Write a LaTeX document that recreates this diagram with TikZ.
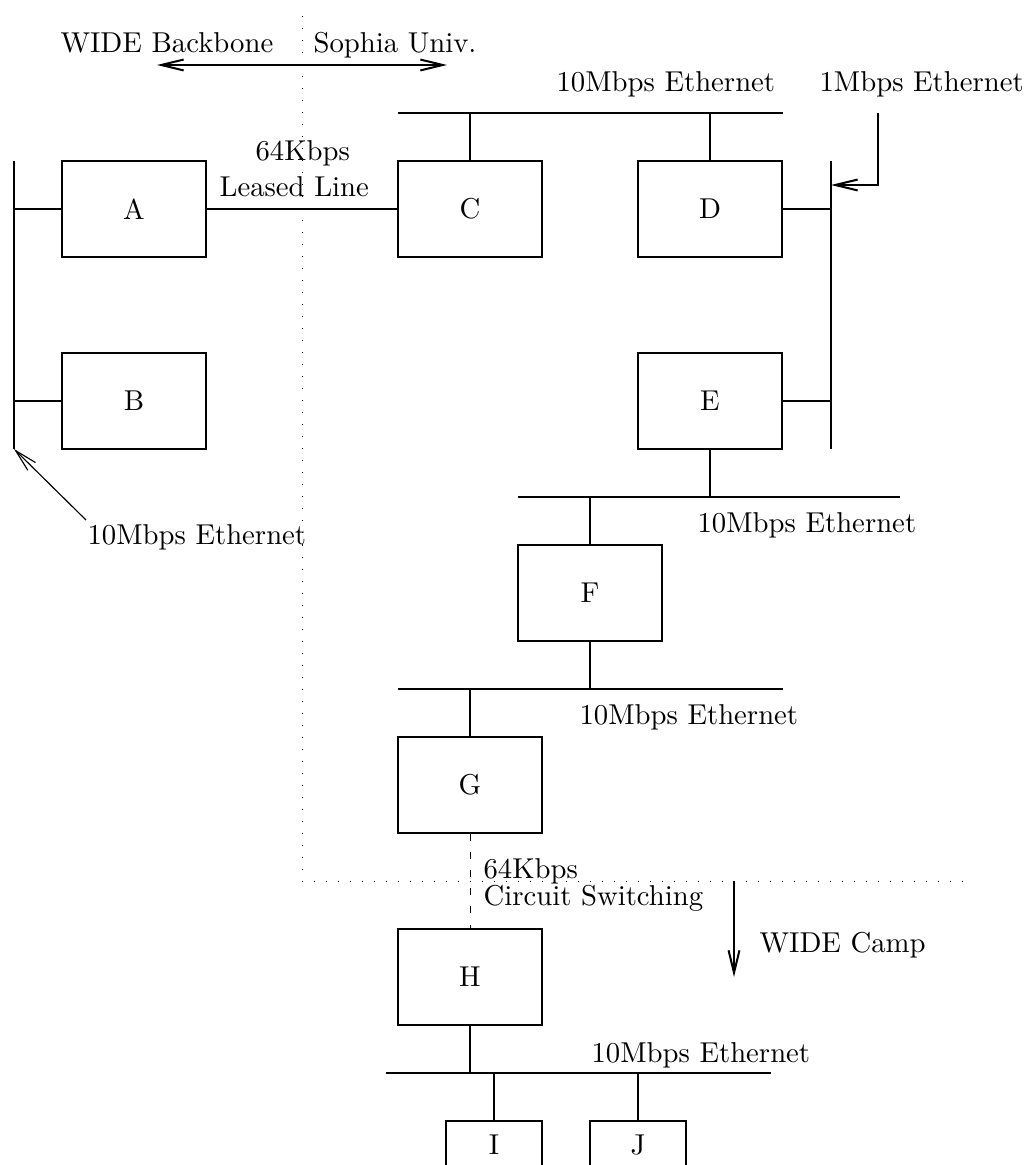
\documentclass[tikz,border=0pt]{standalone}
\usepackage{fontspec}
\usetikzlibrary{arrows.meta}
\begin{document}
\begin{tikzpicture}[x=0.348pt,y=-0.348pt,
  host/.style={draw, line width=0.7pt, minimum width=50.1pt, minimum height=33.4pt, inner sep=0pt},
  leaf/.style={draw, line width=0.7pt, minimum width=33.4pt, minimum height=16.7pt, inner sep=0pt},
  wire/.style={line width=0.7pt},
  thinwire/.style={line width=0.4pt},
  txt/.style={anchor=base west, inner sep=0pt},
  barb/.tip={Straight Barb[length=7.8pt,width=3.8pt]},
  arr/.style={-barb},
  zone/.style={line width=0.35pt, dash pattern=on 0.35pt off 3.83pt},
  dialup/.style={line width=0.35pt, dash pattern=on 2.4pt off 3.9pt}
]
\useasboundingbox (0,0) rectangle (1029,1165);
\clip (0,0) rectangle (1029,1165);

% border between the backbone side and the campus side
\coordinate (sepT) at (302,16);
\coordinate (sepC) at (302,881);
\coordinate (sepR) at (963,881);
\draw[zone] (sepT) -- (sepC) -- (sepR);

% hosts
\node[host] (A) at (134,209) {A};
\node[host] (B) at (134,401) {B};
\node[host] (C) at (470,209) {C};
\node[host] (D) at (710,209) {D};
\node[host] (E) at (710,401) {E};
\node[host] (F) at (590,593) {F};
\node[host] (G) at (470,785) {G};
\node[host] (H) at (470,977) {H};
\node[leaf] (I) at (494,1145) {I};
\node[leaf] (J) at (638,1145) {J};

% ethernet segments
\coordinate (lbT) at (14,161);  \coordinate (lbB) at (14,449);
\coordinate (rbT) at (831,161); \coordinate (rbB) at (831,449);
\coordinate (tbL) at (398,113); \coordinate (tbR) at (783,113);
\coordinate (efL) at (518,497); \coordinate (efR) at (900,497);
\coordinate (fgL) at (398,689); \coordinate (fgR) at (783,689);
\coordinate (hjL) at (386,1073); \coordinate (hjR) at (771,1073);
\draw[wire] (lbT) -- (lbB);
\draw[wire] (rbT) -- (rbB);
\draw[wire] (tbL) -- (tbR);
\draw[wire] (efL) -- (efR);
\draw[wire] (fgL) -- (fgR);
\draw[wire] (hjL) -- (hjR);

% taps
\draw[wire] (A.west) -- (A.west -| lbT);
\draw[wire] (B.west) -- (B.west -| lbT);
\draw[wire] (A.east) -- (C.west);
\draw[wire] (C.north) -- (C.north |- tbL);
\draw[wire] (D.north) -- (D.north |- tbL);
\draw[wire] (D.east) -- (D.east -| rbT);
\draw[wire] (E.east) -- (E.east -| rbT);
\draw[wire] (E.south) -- (E.south |- efL);
\draw[wire] (F.north) -- (F.north |- efL);
\draw[wire] (F.south) -- (F.south |- fgL);
\draw[wire] (G.north) -- (G.north |- fgL);
\draw[dialup] (G.south) -- (H.north);
\draw[wire] (H.south) -- (H.south |- hjL);
\draw[wire] (I.north) -- (I.north |- hjL);
\draw[wire] (J.north) -- (J.north |- hjL);

% pointers
\coordinate (bbL) at (157,65); \coordinate (bbR) at (447,65);
\draw[wire, barb-barb] (bbL) -- (bbR);
\coordinate (mbS) at (878,113); \coordinate (mbT) at (831,185);
\draw[wire, arr] (mbS) |- (mbT);
\coordinate (lbS) at (86,520);
\draw[thinwire, arr] (lbS) -- (lbB);
\coordinate (campS) at (734,881); \coordinate (campT) at (734,977);
\draw[wire, arr] (campS) -- (campT);

% labels
\node[txt] (tWB) at (60,53) {WIDE Backbone};
\node[txt] (tSU) at (313,53) {Sophia Univ.};
\node[txt] (tE1) at (556,92) {10Mbps Ethernet};
\node[txt] (tE2) at (819,92) {1Mbps Ethernet};
\node[txt] (tLL1) at (255,161) {64Kbps};
\node[txt] (tLL2) at (219,197) {Leased Line};
\node[txt] (tE3) at (87,544) {10Mbps Ethernet};
\node[txt] (tE4) at (697,533) {10Mbps Ethernet};
\node[txt] (tE5) at (579,724) {10Mbps Ethernet};
\node[txt] (tCS1) at (483,878) {64Kbps};
\node[txt] (tCS2) at (483,905) {Circuit Switching};
\node[txt] (tWC) at (759,952) {WIDE Camp};
\node[txt] (tE6) at (591,1062) {10Mbps Ethernet};
\end{tikzpicture}
\end{document}
